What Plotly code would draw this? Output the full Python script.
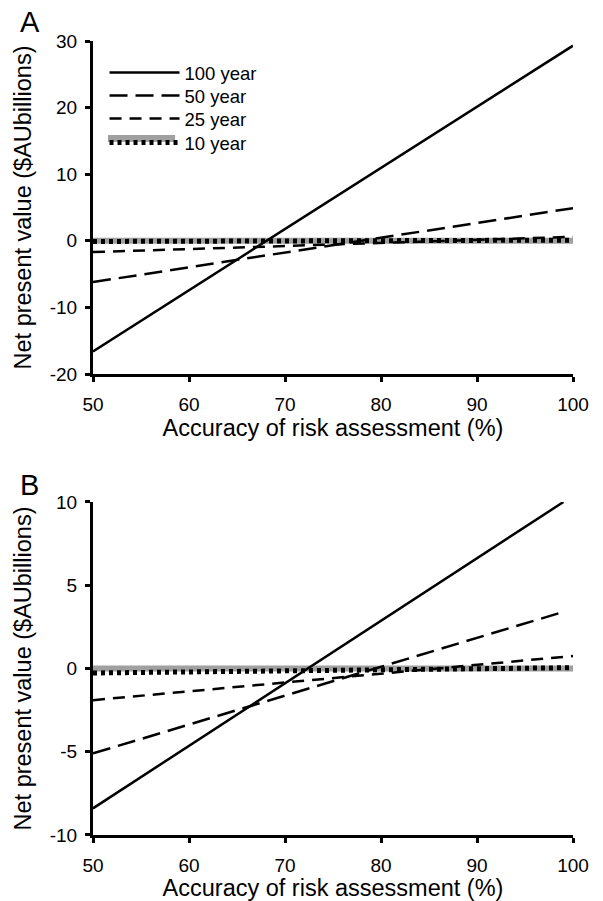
import plotly.graph_objects as go

# Accuracy of risk assessment (%)
x_full = [50, 100]
x_short = [50, 99]

# Panel A values ($AU billions)
a_100 = [-16.6, 29.3]
a_50 = [-6.2, 4.9]
a_25 = [-1.7, 0.6]
a_10 = [-0.1, 0.1]
a_base = [0, 0]

# Panel B values ($AU billions)
b_100 = [-8.4, 10.0]
b_50 = [-5.1, 3.4]
b_25 = [-1.9, 0.75]
b_10 = [-0.27, 0.05]
b_base = [0, 0]

names = ["100 year", "50 year", "25 year", "10 year"]
styles = [
    dict(color="black", width=2.5, dash="solid"),
    dict(color="black", width=2.5, dash="18px,8px"),
    dict(color="black", width=2.5, dash="12px,8px"),
    dict(color="black", width=5, dash="4px,4px"),
]
legend_ids = ["legend", "legend2", "legend3", "legend4"]
legend_rows_y = [0.9597, 0.9307, 0.9018, 0.8715]

yA_ticks = [-20, -10, 0, 10, 20, 30]
yB_ticks = [-10, -5, 0, 5, 10]
x_ticks = [50, 60, 70, 80, 90, 100]

fig = go.Figure()

panels = [
    ([a_100, a_50, a_25, a_10], [x_full, x_full, x_full, x_full], a_base, "x", "y"),
    ([b_100, b_50, b_25, b_10], [x_short, x_short, x_full, x_full], b_base, "x2", "y2"),
]
for p, (series, xs, base, xa, ya) in enumerate(panels):
    fig.add_trace(go.Scatter(x=x_full, y=base, mode="lines",
                             line=dict(color="#a0a0a0", width=6),
                             showlegend=False, xaxis=xa, yaxis=ya, hoverinfo="skip"))
    for i, s in enumerate(series):
        fig.add_trace(go.Scatter(x=xs[i], y=s, mode="lines", name=names[i],
                                 line=styles[i], showlegend=(p == 0),
                                 legend=legend_ids[i], xaxis=xa, yaxis=ya))

font_family = "Liberation Sans, Arial, sans-serif"
axis_common = dict(showline=True, linecolor="black", linewidth=3, ticks="outside",
                   ticklen=5, tickwidth=3, tickcolor="black", showgrid=False,
                   zeroline=False, tickfont=dict(size=19, color="black"),
                   mirror=False, automargin=False)
title_font = dict(size=23.5, color="black")

def fmt(v):
    return str(v).replace("\u2212", "-")

legend_style = dict(x=0.024, xanchor="left", yanchor="middle", bgcolor="rgba(0,0,0,0)",
                    font=dict(size=18.5), itemwidth=70)

layout_legends = {}
for lid, ly in zip(legend_ids, legend_rows_y):
    layout_legends[lid] = dict(y=ly, **legend_style)

fig.update_layout(
    width=603, height=901,
    margin=dict(l=93, r=30, t=41, b=66),
    plot_bgcolor="white", paper_bgcolor="white",
    font=dict(family=font_family, color="black"),
    xaxis=dict(domain=[0, 1], anchor="y", range=[50, 100],
               tickvals=x_ticks, ticktext=[fmt(v) for v in x_ticks], ticklabelstandoff=6,
               title=dict(text="Accuracy of risk assessment (%)", font=title_font, standoff=0),
               **axis_common),
    yaxis=dict(domain=[0.5806, 1], anchor="x", range=[-20, 30],
               tickvals=yA_ticks, ticktext=[fmt(v) for v in yA_ticks], ticklabelstandoff=4,
               title=dict(text="Net present value ($AUbillions)", font=title_font, standoff=12),
               **axis_common),
    xaxis2=dict(domain=[0, 1], anchor="y2", range=[50, 100],
                tickvals=x_ticks, ticktext=[fmt(v) for v in x_ticks], ticklabelstandoff=6,
                title=dict(text="Accuracy of risk assessment (%)", font=title_font, standoff=0),
                **axis_common),
    yaxis2=dict(domain=[0, 0.4194], anchor="x2", range=[-10, 10],
                tickvals=yB_ticks, ticktext=[fmt(v) for v in yB_ticks], ticklabelstandoff=4,
                title=dict(text="Net present value ($AUbillions)", font=title_font, standoff=12),
                **axis_common),
    shapes=[
        # grey bar of the "10 year" legend key
        dict(type="rect", xref="paper", yref="paper", x0=0.03125, x1=0.171,
             y0=0.8728, y1=0.8816, fillcolor="#a0a0a0", line=dict(width=0), layer="above"),
    ],
    annotations=[
        dict(text="A", x=-0.15625, y=1.0233, xref="paper", yref="paper", showarrow=False,
             xanchor="left", yanchor="middle", font=dict(size=29, color="black")),
        dict(text="B", x=-0.15625, y=0.4408, xref="paper", yref="paper", showarrow=False,
             xanchor="left", yanchor="middle", font=dict(size=29, color="black")),
    ],
    **layout_legends,
)

fig.write_html("out.html", config={"displayModeBar": False},
               post_script="document.body.style.margin='0px';")
